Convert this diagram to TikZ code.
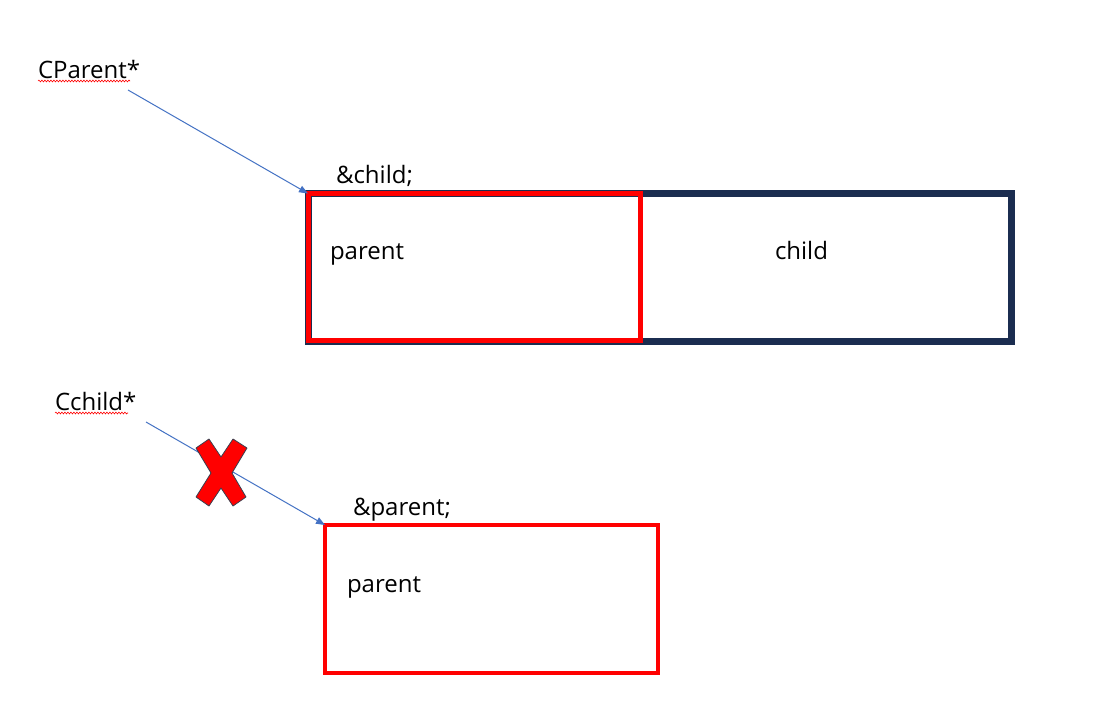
\documentclass[tikz,border=0pt]{standalone}
\usepackage{fontspec}
\setmainfont{Open Sans}
\usetikzlibrary{arrows.meta,decorations.pathmorphing}
\definecolor{navybox}{HTML}{1B2D50}
\definecolor{arrowblue}{HTML}{4472C4}
\definecolor{xoutline}{HTML}{3A4050}
\begin{document}
\begin{tikzpicture}[x=1pt,y=-1pt,
  lbl/.style={anchor=base west,inner sep=0pt,outer sep=0pt,font=\fontsize{24}{28}\selectfont},
  boxnode/.style={draw,rectangle,inner sep=0pt,outer sep=0pt,anchor=north west},
  ptr/.style={draw=arrowblue,line width=1pt,-{Triangle[length=9pt,width=7pt]}},
  squig/.style={draw=red,line width=0.6pt,decorate,decoration={snake,segment length=3pt,amplitude=0.9pt}}]
\useasboundingbox (0,0) rectangle (1116,712);
\fill[white] (0,0) rectangle (1116,712);

% top structure
\node[boxnode,draw=navybox,line width=7pt,minimum width=703pt,minimum height=148pt] (outer) at (308,193.5) {};
\node[boxnode,draw=red,line width=5pt,minimum width=332pt,minimum height=147pt] (pbox) at (308.5,193.5) {};
\node[lbl] (ptxt) at (330,259) {parent};
\node[lbl] (ctxt) at (775,259) {child};
\node[lbl] (amchild) at (336,183) {\&child;};

% bottom structure
\node[boxnode,draw=red,line width=4pt,minimum width=333pt,minimum height=147.5pt] (pbox2) at (325,525) {};
\node[lbl] (ptxt2) at (347,592) {parent};
\node[lbl] (ampar) at (353,515) {\&parent;};

% pointer labels
\node[lbl] (cparent) at (38,78) {CParent*};
\node[lbl] (cchild) at (55,410) {Cchild*};
\draw[squig] (38,81) -- (130,81);
\draw[squig] (55,413) -- (128,413);

\coordinate (cpstart) at (128,90);
\coordinate (ccstart) at (146,422);
\draw[ptr] (cpstart) -- (outer.north west);
\draw[ptr] (ccstart) -- (pbox2.north west);

% cross mark
\filldraw[fill=red,draw=xoutline,line width=0.8pt,line join=round]
  (196,448) -- (209,439) -- (221,457) -- (233,439) -- (247,448) -- (232,473)
  -- (246,497) -- (233,506) -- (221,488) -- (209,506) -- (196,497) -- (211,473) -- cycle;
\end{tikzpicture}
\end{document}
